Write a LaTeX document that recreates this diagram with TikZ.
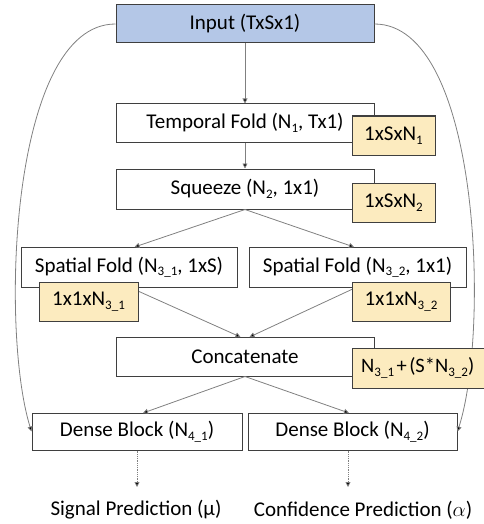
\documentclass[tikz,border=0pt]{standalone}
\usepackage{fontspec}
\setmainfont{Carlito}
\usetikzlibrary{arrows.meta}
\definecolor{inblue}{HTML}{B4C7E7}
\definecolor{lblyel}{HTML}{FCEBBF}
\definecolor{bord}{HTML}{3F3F3F}
\definecolor{conn}{HTML}{808080}
\newcommand{\mysub}[1]{\raisebox{-0.35ex}{\fontsize{13}{14}\selectfont #1}}
\tikzset{
  box/.style={draw=bord, line width=1pt, fill=white, inner sep=0pt, font=\fontsize{21}{24}\selectfont},
  lbl/.style={draw=bord, line width=1pt, fill=lblyel, inner sep=0pt, font=\fontsize{21}{24}\selectfont},
  conn/.style={draw=conn, line width=0.8pt, -{Triangle[length=5pt,width=5pt,fill=black]}},
  dconn/.style={conn, densely dotted},
  outtxt/.style={inner sep=0pt, font=\fontsize{21}{24}\selectfont}
}
\begin{document}
\begin{tikzpicture}[x=1pt,y=-1pt]
\useasboundingbox (0,0) rectangle (483,524);
\node[box, fill=inblue, minimum width=258pt, minimum height=38pt] (inp) at (245,24) {Input (TxSx1)};
\node[box, minimum width=258pt, minimum height=38pt] (tf) at (245,123) {Temporal Fold (N\mysub{1}, Tx1)};
\node[box, minimum width=258pt, minimum height=40pt] (sq) at (245,189) {Squeeze (N\mysub{2}, 1x1)};
\node[box, minimum width=216pt, minimum height=40pt] (sl) at (129,267) {Spatial Fold (N\mysub{3\_1}, 1xS)};
\node[box, minimum width=217pt, minimum height=40pt] (sr) at (357.5,267) {Spatial Fold (N\mysub{3\_2}, 1x1)};
\node[box, minimum width=258pt, minimum height=39pt] (cc) at (245,356.5) {Concatenate};
\node[box, minimum width=210pt, minimum height=37pt] (dl) at (137,431.5) {Dense Block (N\mysub{4\_1})};
\node[box, minimum width=209pt, minimum height=37pt] (dr) at (352.5,431.5) {Dense Block (N\mysub{4\_2})};
\coordinate (slb) at (129,287);
\coordinate (srb) at (357,287);
\coordinate (slt) at (134.5,247);
\coordinate (srt) at (354,247);
\coordinate (cct1) at (240.5,337);
\coordinate (cct2) at (249.5,337);
\coordinate (dlt) at (143,413);
\coordinate (drt) at (349,413);
% connectors
\draw[conn] (inp.south) -- (tf.north);
\draw[conn] (tf.south) -- (sq.north);
\draw[conn] (sq.south) -- (slt);
\draw[conn] (sq.south) -- (srt);
\draw[conn] (slb) -- (cct1);
\draw[conn] (srb) -- (cct2);
\draw[conn] (cc.south) -- (dlt);
\draw[conn] (cc.south) -- (drt);
\draw[conn] (inp.west) .. controls (10,24) and (0,330) .. (dl.west);
\draw[conn] (inp.east) .. controls (480,24) and (490,330) .. (dr.east);
% labels
\node[lbl, minimum width=83pt, minimum height=39pt] (l1) at (393.5,135.5) {1xSxN\mysub{1}};
\node[lbl, minimum width=83pt, minimum height=39pt] (l2) at (393.5,202.5) {1xSxN\mysub{2}};
\node[lbl, minimum width=99pt, minimum height=39pt] (l3) at (88.5,301.5) {1x1xN\mysub{3\_1}};
\node[lbl, minimum width=98pt, minimum height=39pt] (l4) at (401,301.5) {1x1xN\mysub{3\_2}};
\node[lbl, minimum width=136pt, minimum height=40pt, anchor=west] (l5) at (352,368) {};
\node[outtxt, anchor=west, font=\fontsize{20.5}{23}\selectfont] (l5t) at (361,368) {N\mysub{3\_1}\kern2.5pt+\kern2.5pt(S*N\mysub{3\_2})};
% outputs
\node[outtxt] (o1) at (136,510) {Signal Prediction (µ)};
\node[outtxt] (o2) at (363,510) {Confidence Prediction ($\alpha$)};
\coordinate (o1a) at (137,487);
\coordinate (o2a) at (348,487);
\draw[dconn] (dl.south) -- (o1a);
\draw[dconn] (dr.south -| o2a) -- (o2a);
\end{tikzpicture}
\end{document}
